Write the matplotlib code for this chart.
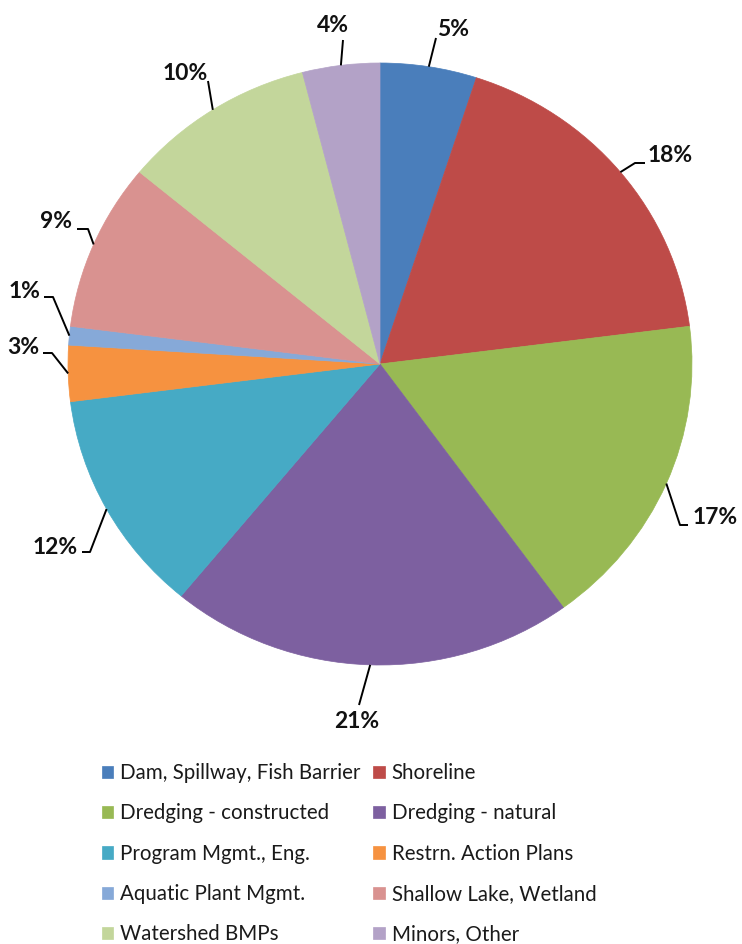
import matplotlib
matplotlib.use('Agg')
import matplotlib.pyplot as plt
import numpy as np

# ---- data ----
categories = ["Dam, Spillway, Fish Barrier", "Shoreline", "Dredging - constructed",
              "Dredging - natural", "Program Mgmt., Eng.", "Restrn. Action Plans",
              "Aquatic Plant Mgmt.", "Shallow Lake, Wetland", "Watershed BMPs",
              "Minors, Other"]
values = [5, 18, 17, 21, 12, 3, 1, 9, 10, 4]
pct_labels = [f"{v}%" for v in values]

# ---- style ----
colors = ["#4A7EBB", "#BE4B48", "#98B954", "#7D60A0", "#46AAC5",
          "#F69240", "#86A9D8", "#D99290", "#C3D69B", "#B3A2C7"]
plt.rcParams['font.family'] = ['Lato', 'DejaVu Sans']

W, H = 742, 944
fig = plt.figure(figsize=(W / 100, H / 100), dpi=100)
fig.patch.set_facecolor('white')
cx, cy, rx, ry = 380, 364, 312, 301
ax = fig.add_axes([(cx - rx) / W, (H - cy - ry) / H, 2 * rx / W, 2 * ry / H])

wedges, _ = ax.pie(values, colors=colors, startangle=90, counterclock=False,
                   radius=1.0, wedgeprops=dict(linewidth=0.5))
for w, c in zip(wedges, colors):
    w.set_edgecolor(c)
ax.set_aspect('auto')
ax.set_xlim(-1, 1)
ax.set_ylim(-1, 1)
ax.axis('off')


def px(x, y):
    return ((x - cx) / rx, (cy - y) / ry)


# label layout (pixel positions)
label_pos = [(453, 30), (670, 155), (715, 518), (357, 722), (55, 547),
             (23, 348), (24, 292), (56, 222), (185, 74), (333, 25)]
leader_pts = [[(436, 38)], [(635, 163), (645, 163)], [(680, 525), (688, 525)],
              [(359, 705)], [(90, 552), (82, 552)], [(52, 353), (43, 353)],
              [(53, 297), (44, 297)], [(88, 229), (77, 229)], [(208, 81)],
              [(343, 40)]]

for w, lab, pos, pts in zip(wedges, pct_labels, label_pos, leader_pts):
    th = np.deg2rad((w.theta1 + w.theta2) / 2)
    xs = [np.cos(th)] + [px(*p)[0] for p in pts]
    ys = [np.sin(th)] + [px(*p)[1] for p in pts]
    ax.plot(xs, ys, color='black', lw=1.4, clip_on=False, solid_capstyle='butt')
    tx, ty = px(*pos)
    ax.text(tx, ty, lab, ha='center', va='center', fontsize=16.5,
            fontweight='bold', color='#111111', clip_on=False)

order = [0, 2, 4, 6, 8, 1, 3, 5, 7, 9]
leg = fig.legend([wedges[i] for i in order], [categories[i] for i in order],
                 ncol=2, loc='upper left', bbox_to_anchor=(102 / W, 1 - 763 / H),
                 frameon=False, fontsize=14.8, handlelength=0.55, handleheight=0.55,
                 handletextpad=0.35, columnspacing=0.6, labelspacing=0.99,
                 borderpad=0, borderaxespad=0)
for t in leg.get_texts():
    t.set_color('#1a1a1a')

fig.savefig('out.png', dpi=100, facecolor='white')
